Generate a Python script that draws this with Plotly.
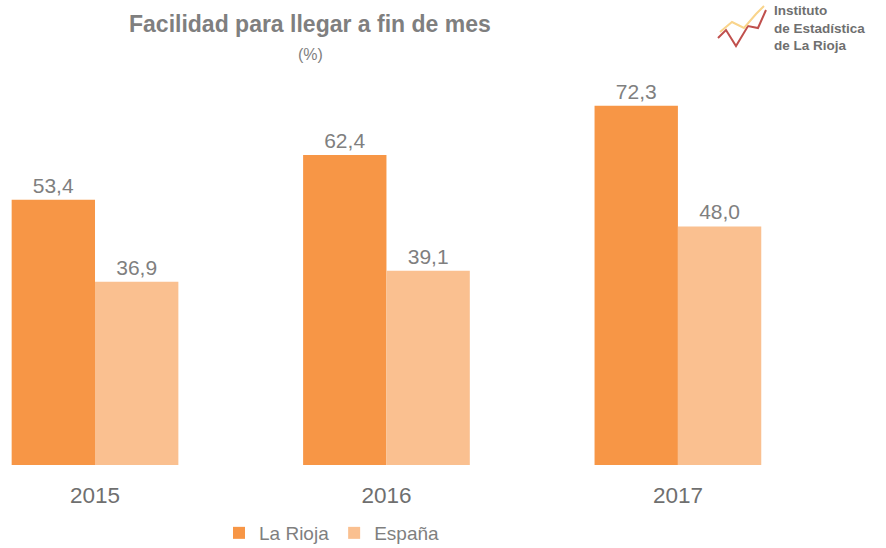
import plotly.graph_objects as go

years = ["2015", "2016", "2017"]
la_rioja = [53.4, 62.4, 72.3]
espana = [36.9, 39.1, 48.0]
series_names = ["La Rioja", "España"]
colors = ["#F79646", "#FAC090"]

W, H = 886, 548
TOP, BOT = 60, 465  # plot area pixel rows
fig = go.Figure()
for name, vals, col in zip(series_names, [la_rioja, espana], colors):
    fig.add_trace(go.Bar(
        x=years, y=vals, name=name, marker=dict(color=col, line=dict(width=0)),
        texttemplate="%{y:.1f}", textposition="outside",
        textfont=dict(family="Liberation Sans, Arial", size=21, color="#7F7F7F"),
        cliponaxis=False,
    ))

def px(xp):
    return xp / W

def py(yp):
    return (BOT - yp) / (BOT - TOP)

fig.update_layout(
    width=W, height=H,
    margin=dict(l=0, r=0, t=TOP, b=H - BOT, autoexpand=False),
    paper_bgcolor="white", plot_bgcolor="white",
    separators=",.",
    barmode="group", bargap=0.428, bargroupgap=0,
    font=dict(family="Liberation Sans, Arial", color="#7F7F7F"),
    xaxis=dict(type="category", range=[-0.326, 2.714], showgrid=False, zeroline=False,
               showline=False, ticks="", ticklabelstandoff=14, automargin=False,
               tickfont=dict(size=22.5, color="#6F6F6F")),
    yaxis=dict(range=[0, 81.5], visible=False, automargin=False),
    showlegend=True,
    legend=dict(orientation="h", x=px(332), xanchor="center", y=py(533), yanchor="middle",
                font=dict(size=19, color="#7F7F7F"), itemwidth=30, traceorder="normal"),
)

ann = [
    dict(text="<b>Facilidad para llegar a fin de mes</b>", x=px(310), y=py(24), size=23),
    dict(text="(%)", x=px(310), y=py(55), size=16),
]
for a in ann:
    fig.add_annotation(text=a["text"], x=a["x"], y=a["y"], xref="paper", yref="paper",
                       xanchor="center", yanchor="middle", showarrow=False,
                       font=dict(size=a["size"], color="#7F7F7F"))

fig.add_annotation(text="<b>Instituto<br>de Estadística<br>de La Rioja</b>",
                   x=px(772), y=py(1), xref="paper", yref="paper", xanchor="left", yanchor="top",
                   align="left", showarrow=False,
                   font=dict(size=13.5, color="#6F6F6F"))
# small logo zigzag
fig.add_shape(type="path", xref="paper", yref="paper",
              path=f"M {px(718)} {py(38)} L {px(726)} {py(30)} L {px(736)} {py(46)} L {px(748)} {py(26)} L {px(758)} {py(28)} L {px(766)} {py(10)}",
              line=dict(color="#C0504D", width=2))
fig.add_shape(type="path", xref="paper", yref="paper",
              path=f"M {px(720)} {py(32)} L {px(732)} {py(22)} L {px(744)} {py(28)} L {px(756)} {py(14)} L {px(764)} {py(6)}",
              line=dict(color="#F9D48B", width=2))

fig.write_html("out.html", config={"displayModeBar": False},
               post_script="document.body.style.margin='0';")
